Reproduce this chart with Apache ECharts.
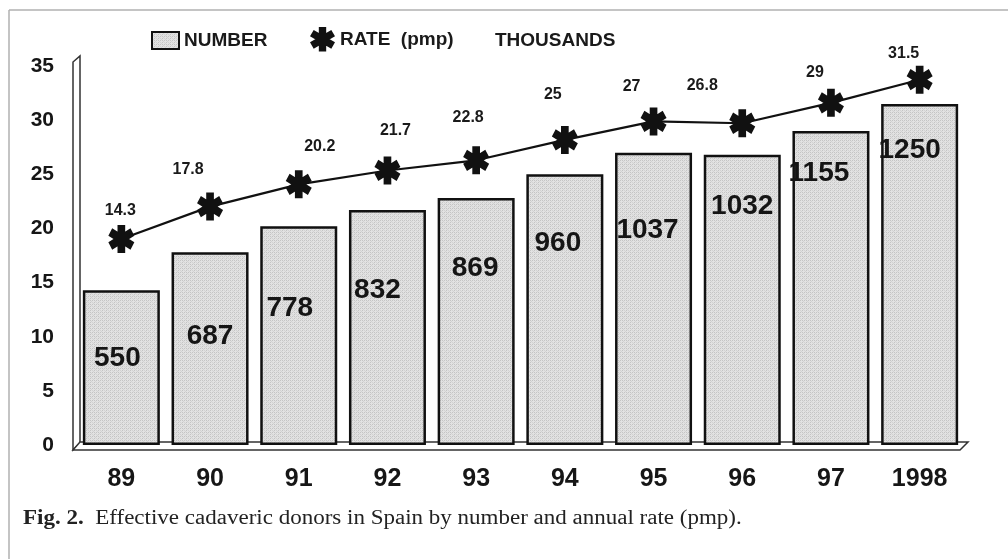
<!DOCTYPE html>
<html>
<head>
<meta charset="utf-8">
<script src="https://cdn.jsdelivr.net/npm/echarts@6/dist/echarts.min.js"></script>
<style>
  html, body { margin: 0; padding: 0; background: #fff; }
  #chart { width: 1008px; height: 559px; }
</style>
</head>
<body>
<div id="chart"></div>
<script>
// Effective cadaveric donors in Spain, 1989-1998
const years = ['89', '90', '91', '92', '93', '94', '95', '96', '97', '1998'];
const ratePmp = [14.3, 17.8, 20.2, 21.7, 22.8, 25, 27, 26.8, 29, 31.5];
const donorCount = [550, 687, 778, 832, 869, 960, 1037, 1032, 1155, 1250];
const yTicks = { min: 0, max: 35, step: 5 };

// Label placement tweaks (pixels), kept apart from the values
const countLabelShift = [[-4, 54], [0, 70], [-9, 68], [-10, 66], [-1, 56], [-7, 55], [-6, 64], [0, 37], [-12, 28], [-10, 32]];
const rateLabelShift = [[-1, -28], [-22, -37], [21, -38], [8, -40], [-8, -43], [-12, -45], [-22, -35], [-40, -38], [-16, -30], [-16, -26]];

const FONT = '"Liberation Sans", Arial, sans-serif';
const SERIF = '"Liberation Serif", "Times New Roman", serif';

// Fine stipple fill for the bars
function stipple() {
  const c = document.createElement('canvas');
  c.width = 4; c.height = 4;
  const g = c.getContext('2d');
  g.fillStyle = '#e2e2e2'; g.fillRect(0, 0, 4, 4);
  g.fillStyle = '#c4c4c4';
  g.fillRect(0, 0, 1, 1); g.fillRect(2, 2, 1, 1); g.fillRect(2, 0, 1, 1);
  g.fillStyle = '#d2d2d2';
  g.fillRect(0, 2, 1, 1); g.fillRect(1, 3, 1, 1); g.fillRect(3, 1, 1, 1);
  return c;
}
const barFill = { image: stipple(), repeat: 'repeat' };

// six-armed asterisk marker
const STAR = 'path://M-3,-10L3,-10L3,10L-3,10Z' +
  'M7.16,-7.6L10.16,-2.4L-7.16,7.6L-10.16,2.4Z' +
  'M10.16,2.4L7.16,7.6L-10.16,-2.4L-7.16,-7.6Z';

const chart = echarts.init(document.getElementById('chart'), null, { renderer: 'canvas' });

const option = {
  backgroundColor: '#fff',
  animation: false,
  grid: { left: 77, right: 44, top: 66, bottom: 114 },
  legend: [
    {
      data: [{ name: 'NUMBER', icon: 'rect' }], left: 151, top: 31, padding: 0,
      itemWidth: 27, itemHeight: 17, itemGap: 0,
      textStyle: { fontFamily: FONT, fontWeight: 'bold', fontSize: 19, color: '#1a1a1a' }
    },
    {
      data: [{ name: 'RATE  (pmp)', icon: STAR }], left: 310, top: 27, padding: 0,
      itemWidth: 25, itemHeight: 28, itemGap: 0,
      textStyle: { fontFamily: FONT, fontWeight: 'bold', fontSize: 19, color: '#1a1a1a' }
    }
  ],
  xAxis: {
    type: 'category',
    data: years,
    axisLine: { show: false },
    axisTick: { show: false },
    axisLabel: { margin: 22, fontFamily: FONT, fontWeight: 'bold', fontSize: 25, color: '#161616' }
  },
  yAxis: [
    {
      type: 'value', min: yTicks.min, max: yTicks.max, interval: yTicks.step,
      axisLine: { show: false }, axisTick: { show: false }, splitLine: { show: false },
      axisLabel: { margin: 23, fontFamily: FONT, fontWeight: 'bold', fontSize: 21, color: '#161616' }
    },
    {
      // scale used by the rate line, drawn above the bars
      type: 'value', show: false, min: -7.94, max: 32.98,
      splitLine: { show: false }
    }
  ],
  graphic: [
    // frame
    { type: 'line', shape: { x1: 9, y1: 10, x2: 1008, y2: 10 }, style: { stroke: '#b0b0b0', lineWidth: 1.5 }, z: 0 },
    { type: 'line', shape: { x1: 9, y1: 10, x2: 9, y2: 559 }, style: { stroke: '#b0b0b0', lineWidth: 1.5 }, z: 0 },
    // back wall
    { type: 'polygon', shape: { points: [[73, 450], [73, 62], [80, 56], [80, 443]] }, style: { fill: '#fff', stroke: '#333', lineWidth: 1.5 }, z: 1 },
    // floor
    { type: 'polygon', shape: { points: [[73, 450], [80, 442], [968, 442], [960, 450]] }, style: { fill: '#fff', stroke: '#333', lineWidth: 1.5 }, z: 1 },
    {
      type: 'text', x: 495, y: 31, z: 5,
      style: { text: 'THOUSANDS', font: 'bold 19px ' + FONT, fill: '#1a1a1a' }
    },
    {
      type: 'text', x: 23, y: 509, z: 5, scaleX: 1.15,
      style: {
        text: '{b|Fig. 2.}  Effective cadaveric donors in Spain by number and annual rate (pmp).',
        font: '20px ' + SERIF,
        fill: '#222',
        rich: {
          b: { font: 'bold 20px ' + SERIF, fill: '#222' }
        }
      }
    }
  ],
  series: [
    {
      name: 'NUMBER',
      type: 'bar',
      z: 3,
      barWidth: 77,
      data: ratePmp.map((v, i) => ({ value: v, label: { offset: countLabelShift[i] } })),
      itemStyle: { color: barFill, borderColor: '#111', borderWidth: 2.5 },
      label: {
        show: true,
        position: 'insideTop',
        distance: 0,
        formatter: p => String(donorCount[p.dataIndex]),
        fontFamily: FONT, fontWeight: 'bold', fontSize: 28, lineHeight: 28,
        color: '#151515'
      }
    },
    {
      name: 'RATE  (pmp)',
      type: 'line',
      yAxisIndex: 1,
      z: 4,
      data: ratePmp.map((v, i) => ({ value: v, label: { offset: rateLabelShift[i] } })),
      symbol: STAR,
      symbolSize: [26, 28],
      showAllSymbol: true,
      lineStyle: { color: '#111', width: 2.2 },
      itemStyle: { color: '#111' },
      label: {
        show: true,
        position: 'inside',
        fontFamily: FONT, fontWeight: 'bold', fontSize: 16, color: '#1a1a1a'
      }
    }
  ]
};

chart.setOption(option);
</script>
</body>
</html>
